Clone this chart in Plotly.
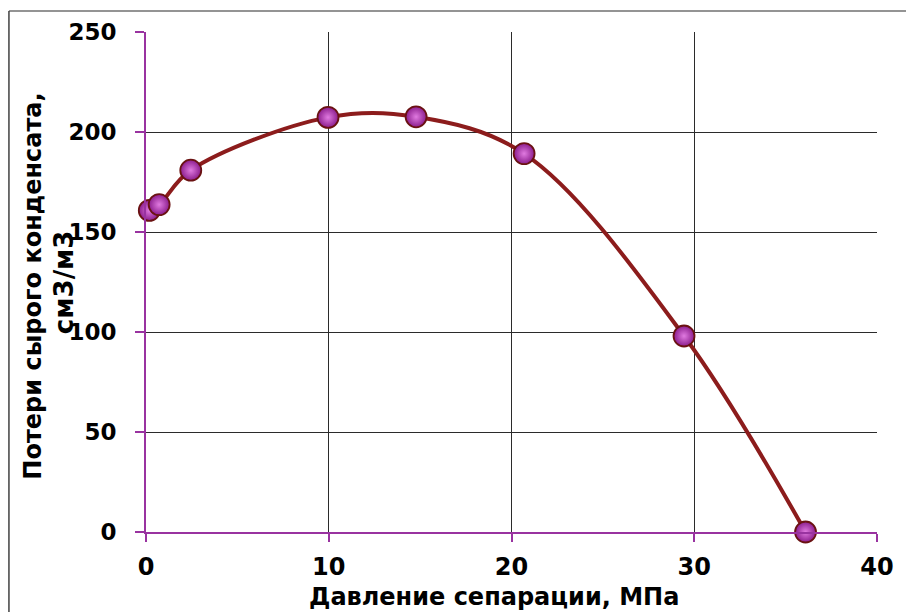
import plotly.graph_objects as go

# Data
pressure = [0.18, 0.72, 2.45, 9.96, 14.78, 20.69, 29.44, 36.09]   # МПа
losses = [160.8, 163.7, 180.9, 207.3, 207.6, 189.2, 98.0, 0.0]     # см3/м3

x_ticks = [0, 10, 20, 30, 40]
y_ticks = [0, 50, 100, 150, 200, 250]

x_title = "Давление сепарации, МПа"
y_title_1 = "Потери сырого конденсата,"
y_title_2 = "см3/м3"

FONT = "DejaVu Sans"
PURPLE = "#9933a0"
GRID = "#2b2b2b"

fig = go.Figure()
fig.add_trace(go.Scatter(
    x=pressure, y=losses,
    mode="lines+markers",
    line=dict(color="#8c1c1c", width=4, shape="spline", smoothing=1.0),
    marker=dict(
        size=21,
        color="#8a1c8c",
        gradient=dict(type="radial", color="#e07ae0"),
        line=dict(color="#6a1212", width=1.8),
    ),
    cliponaxis=False,
    showlegend=False,
))

fig.update_xaxes(
    range=[0, 40], tickvals=x_ticks, ticktext=[str(v) for v in x_ticks],
    showgrid=True, gridcolor=GRID, gridwidth=1,
    showline=True, linecolor=PURPLE, linewidth=2,
    ticks="outside", ticklen=8, tickwidth=2, tickcolor=PURPLE,
    zeroline=False, ticklabelstandoff=4,
    tickfont=dict(family=FONT, size=24, color="black", weight="bold"),
)
fig.update_yaxes(
    range=[0, 250], tickvals=y_ticks, ticktext=[str(v) for v in y_ticks],
    showgrid=True, gridcolor=GRID, gridwidth=1,
    showline=True, linecolor=PURPLE, linewidth=2,
    ticks="outside", ticklen=9, tickwidth=2, tickcolor=PURPLE,
    zeroline=False, ticklabelstandoff=14,
    tickfont=dict(family=FONT, size=23, color="black", weight="bold"),
)

# Axis titles
fig.add_annotation(
    text=x_title, xref="paper", yref="paper", x=0.476, y=-0.13,
    xanchor="center", yanchor="middle", showarrow=False,
    font=dict(family=FONT, size=24, color="black", weight="bold"),
)
fig.add_annotation(
    text=y_title_1, xref="paper", yref="paper", x=-0.155, y=0.492,
    xanchor="center", yanchor="middle", showarrow=False, textangle=-90,
    font=dict(family=FONT, size=24, color="black", weight="bold"),
)
fig.add_annotation(
    text=y_title_2, xref="paper", yref="paper", x=-0.112, y=0.5,
    xanchor="center", yanchor="middle", showarrow=False, textangle=-90,
    font=dict(family=FONT, size=26, color="black", weight="bold"),
)

# Outer chart border (top and left visible)
fig.add_shape(type="line", xref="paper", yref="paper",
              x0=-0.1875, y0=1.042, x1=1.05, y1=1.042,
              line=dict(color="#707070", width=1.5))
fig.add_shape(type="line", xref="paper", yref="paper",
              x0=-0.1875, y0=-0.2, x1=-0.1875, y1=1.042,
              line=dict(color="#404040", width=1.5))

fig.update_layout(
    width=906, height=612,
    margin=dict(l=146, r=24, t=32, b=80),
    plot_bgcolor="white", paper_bgcolor="white",
    font=dict(family=FONT),
)

# remove the default page margin so the figure fills the window exactly
fig.write_html(
    "out.html",
    config={"displayModeBar": False},
    post_script="document.body.style.margin='0px';",
)
